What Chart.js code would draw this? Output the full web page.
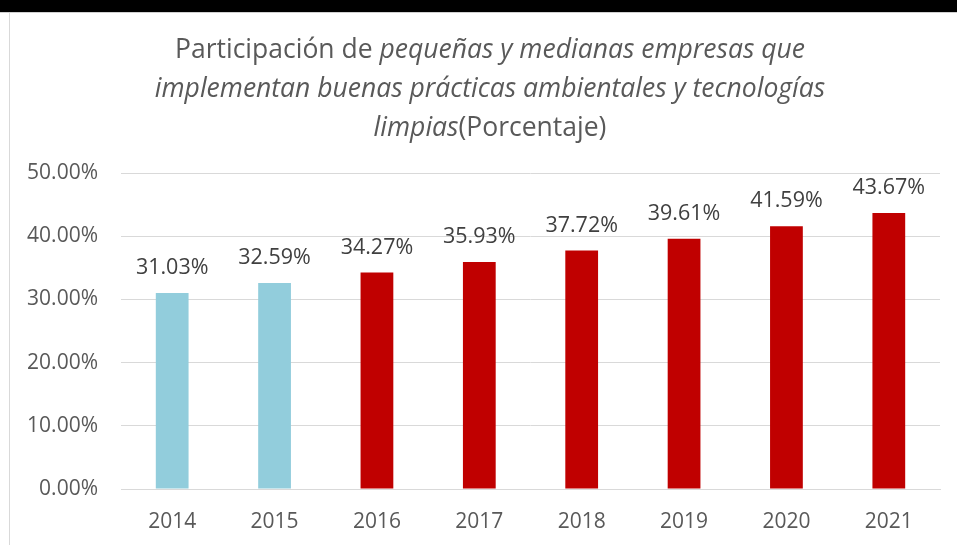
<!DOCTYPE html>
<html>
<head>
<meta charset="utf-8">
<script src="https://cdn.jsdelivr.net/npm/chart.js@4"></script>
<style>
    body { margin: 0; background: #fff; }
    #wrap { position: relative; width: 957px; height: 545px; overflow: hidden; }
    #banda { position: absolute; left: 0; top: 0; width: 957px; height: 12px; background: #000; border-bottom: 1px solid #d0d0d0; }
    #borde { position: absolute; left: 9px; top: 13px; width: 1px; height: 532px; background: #d9d9d9; }
    canvas { position: absolute; left: 0; top: 0; }
</style>
</head>
<body>
<div id="wrap">
    <canvas id="pymes" width="957" height="545"></canvas>
    <div id="banda"></div>
    <div id="borde"></div>
</div>
<script>
const anios = ['2014', '2015', '2016', '2017', '2018', '2019', '2020', '2021'];
const participacion = [31.03, 32.59, 34.27, 35.93, 37.72, 39.61, 41.59, 43.67];
const coloresBarras = ['#92cddc', '#92cddc', '#c00000', '#c00000', '#c00000', '#c00000', '#c00000', '#c00000'];

// titulo con partes en cursiva (una lista de trozos por linea)
const lineasTitulo = [
    [['Participación de ', false], ['pequeñas y medianas empresas que', true]],
    [['implementan buenas prácticas ambientales y tecnologías', true]],
    [['limpias', true], ['(Porcentaje)', false]]
];

const fuente = '"Open Sans", sans-serif';

const tituloMixto = {
    id: 'tituloMixto',
    afterDraw(chart) {
        const ctx = chart.ctx;
        ctx.save();
        ctx.fillStyle = '#595959';
        ctx.textBaseline = 'middle';
        ctx.textAlign = 'left';
        const centro = 490;
        const ys = [50, 89, 128];
        lineasTitulo.forEach((linea, i) => {
            let ancho = 0;
            linea.forEach(([t, it]) => {
                ctx.font = (it ? 'italic ' : '') + '26.5px ' + fuente;
                ancho += ctx.measureText(t).width;
            });
            let x = centro - ancho / 2;
            linea.forEach(([t, it]) => {
                ctx.font = (it ? 'italic ' : '') + '26.5px ' + fuente;
                ctx.fillText(t, x, ys[i]);
                x += ctx.measureText(t).width;
            });
        });
        ctx.restore();
    }
};

const etiquetasValor = {
    id: 'etiquetasValor',
    afterDatasetsDraw(chart) {
        const ctx = chart.ctx;
        ctx.save();
        ctx.fillStyle = '#404040';
        ctx.font = '21.5px ' + fuente;
        ctx.textAlign = 'center';
        ctx.textBaseline = 'middle';
        chart.getDatasetMeta(0).data.forEach((bar, i) => {
            ctx.fillText(participacion[i].toFixed(2) + '%', bar.x, bar.y - 25);
        });
        ctx.restore();
    }
};

new Chart(document.getElementById('pymes'), {
    type: 'bar',
    data: {
        labels: anios,
        datasets: [{
            data: participacion,
            backgroundColor: coloresBarras,
            borderWidth: 0,
            barPercentage: 0.32,
            categoryPercentage: 1
        }]
    },
    options: {
        responsive: false,
        animation: false,
        layout: {
            padding: { top: 173, right: 17, bottom: 0, left: 0 }
        },
        scales: {
            x: {
                grid: { display: false, drawTicks: false },
                border: { color: '#d9d9d9', width: 1 },
                ticks: {
                    color: '#595959',
                    padding: 20,
                    font: { family: fuente, size: 21 }
                },
                afterFit: s => { s.height = 56; }
            },
            y: {
                min: 0,
                max: 50,
                ticks: {
                    stepSize: 10,
                    color: '#595959',
                    padding: 23,
                    font: { family: fuente, size: 21 },
                    callback: v => v.toFixed(2) + '%'
                },
                grid: { color: '#d9d9d9', lineWidth: 1, drawTicks: false },
                border: { display: false },
                afterFit: s => { s.width = 121; }
            }
        },
        plugins: {
            legend: { display: false },
            title: { display: false },
            tooltip: { enabled: false }
        }
    },
    plugins: [tituloMixto, etiquetasValor]
});
</script>
</body>
</html>
